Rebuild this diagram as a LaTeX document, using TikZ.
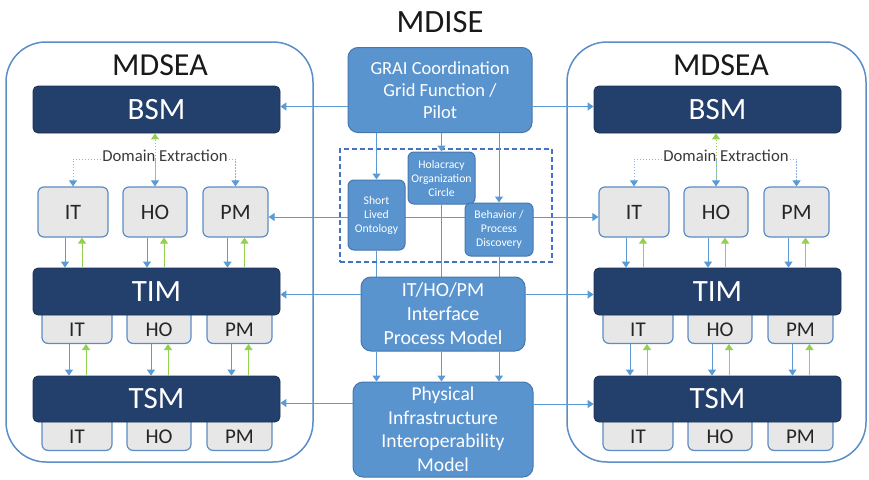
\documentclass[tikz,border=0pt]{standalone}
\usepackage{fontspec}
\setmainfont{Carlito}
\usetikzlibrary{arrows.meta,calc,backgrounds}
\definecolor{navyc}{HTML}{233F6C}
\definecolor{navyb}{HTML}{1B3157}
\definecolor{gf}{HTML}{E7E7E7}
\definecolor{gb}{HTML}{5B8CC5}
\definecolor{mbf}{HTML}{5A94CF}
\definecolor{mbb}{HTML}{4577AF}
\definecolor{ab}{HTML}{5B9BD5}
\definecolor{ag}{HTML}{92D050}
\definecolor{dotc}{HTML}{8EB4E3}
\definecolor{outc}{HTML}{5B8EC6}
\definecolor{dashc}{HTML}{4472C4}
\definecolor{dtext}{HTML}{3A3A3A}
\newcommand\myupdown[2]{%
  \draw[arr] ($(#1.south)+(-8,0)$) -- ($(#1.south |- #2.north)+(-8,0)$);
  \draw[garr] ($(#1.south |- #2.north)+(9,0)$) -- ($(#1.south)+(9,0)$);}
\begin{document}
\begin{tikzpicture}[x=1pt,y=-1pt,
  title/.style={font=\fontsize{32}{32}\selectfont, text=black!90, inner sep=0},
  navy/.style={draw=navyb, fill=navyc, rounded corners=5pt, text=white, font=\fontsize{31}{31}\selectfont, inner sep=0, line width=0.8pt, minimum width=247pt},
  gbox/.style={draw=gb, fill=gf, rounded corners=6pt, line width=1.2pt, font=\fontsize{22}{22}\selectfont, text=black!85, inner sep=0},
  glab/.style={font=\fontsize{21}{21}\selectfont, text=black!85, inner sep=0},
  mbox/.style={draw=mbb, fill=mbf, rounded corners=10pt, text=white, align=center, inner sep=0, line width=1pt},
  sbox/.style={mbox, rounded corners=6pt, font=\fontsize{11.7}{14}\selectfont},
  outerbox/.style={draw=outc, line width=1.5pt, rounded corners=40pt, inner sep=0},
  dashbox/.style={draw=dashc, line width=1.3pt, dash pattern=on 5pt off 3pt, inner sep=0},
  tip/.style={},
  arr/.style={draw=ab, line width=1pt, -{Triangle[width=8pt,length=6pt]}},
  barr/.style={draw=ab, line width=1pt, {Triangle[width=8pt,length=6pt]}-{Triangle[width=8pt,length=6pt]}},
  pline/.style={draw=ab, line width=1pt},
  garr/.style={draw=ag, line width=1pt, -{Triangle[width=8pt,length=6pt]}},
  dotarr/.style={draw=dotc, line width=1pt, dash pattern=on 1.5pt off 1.5pt, -{Triangle[width=8pt,length=6pt,color=ab,fill=ab]}},
  gdotarr/.style={draw=ag, line width=1pt, dash pattern=on 1.5pt off 1.5pt, -{Triangle[width=8pt,length=6pt,color=ag,fill=ag]}},
  domlab/.style={font=\fontsize{16.7}{16.7}\selectfont, text=dtext, inner sep=1pt}
]
\useasboundingbox (0,0) rectangle (869,479);

% outer MDSEA containers
\node[outerbox, minimum width=307pt, minimum height=420pt] (outL) at (159.5,252) {};
\node[outerbox, minimum width=299pt, minimum height=420pt] (outR) at (716.5,252) {};

\foreach \sd/\dx in {L/0,R/561}{
\begin{scope}[xshift=\dx pt]
  \node[title] (mdsea\sd) at (160,65) {MDSEA};
  \node[navy, minimum height=47pt] (bsm\sd) at (156.5,109.5) {BSM};
  \node[domlab] (dom\sd) at (165,156) {Domain Extraction};
  \node[gbox, minimum width=70pt, minimum height=50pt] (it\sd) at (73,212) {IT};
  \node[gbox, minimum width=64pt, minimum height=50pt] (ho\sd) at (155,212) {HO};
  \node[gbox, minimum width=65pt, minimum height=50pt] (pm\sd) at (235.5,212) {PM};
  % sub boxes under TIM
  \node[gbox, minimum width=70pt, minimum height=44pt, anchor=south] (tit\sd) at (77,344) {};
  \node[gbox, minimum width=64pt, minimum height=44pt, anchor=south] (tho\sd) at (159,344) {};
  \node[gbox, minimum width=65pt, minimum height=44pt, anchor=south] (tpm\sd) at (239.5,344) {};
  \node[glab] (titl\sd) at (77,330) {IT};
  \node[glab] (thol\sd) at (159,330) {HO};
  \node[glab] (tpml\sd) at (239.5,330) {PM};
  \node[navy, minimum height=47pt] (tim\sd) at (156.5,291.5) {TIM};
  % sub boxes under TSM
  \node[gbox, minimum width=70pt, minimum height=44pt, anchor=south] (sit\sd) at (77,451) {};
  \node[gbox, minimum width=64pt, minimum height=44pt, anchor=south] (sho\sd) at (159,451) {};
  \node[gbox, minimum width=65pt, minimum height=44pt, anchor=south] (spm\sd) at (239.5,451) {};
  \node[glab] (sitl\sd) at (77,437) {IT};
  \node[glab] (shol\sd) at (159,437) {HO};
  \node[glab] (spml\sd) at (239.5,437) {PM};
  \node[navy, minimum height=46pt] (tsm\sd) at (156.5,399) {TSM};
\end{scope}
  % domain extraction connectors
  \coordinate (dl\sd) at ($(dom\sd.west)+(0,3)$);
  \coordinate (dr\sd) at ($(dom\sd.east)+(0,3)$);
  \draw[dotarr] (dl\sd) -| (it\sd.north);
  \draw[dotarr] (dr\sd) -| (pm\sd.north);
  \draw[gdotarr] (ho\sd.north) -- (ho\sd.north |- bsm\sd.south);
  \draw[dotarr] (ho\sd.north |- dl\sd) -- (ho\sd.north);
  % up/down connectors
  \myupdown{it\sd}{tim\sd}
  \myupdown{ho\sd}{tim\sd}
  \myupdown{pm\sd}{tim\sd}
  \myupdown{tit\sd}{tsm\sd}
  \myupdown{tho\sd}{tsm\sd}
  \myupdown{tpm\sd}{tsm\sd}
}

% centre column
\node[title, font=\fontsize{32.5}{32.5}\selectfont] (mdise) at (440,22) {MDISE};
\node[mbox, minimum width=184pt, minimum height=85pt, font=\fontsize{18.5}{21.7}\selectfont] (grai) at (440,90) {GRAI Coordination\\Grid Function /\\Pilot};
\node[dashbox, minimum width=212pt, minimum height=113pt] (dbox) at (446,205.5) {};
\node[sbox, minimum width=57pt, minimum height=70pt] (slo) at (376.5,215) {Short\\Lived\\Ontology};
\node[sbox, minimum width=67pt, minimum height=52pt] (hola) at (441.5,178) {Holacracy\\Organization\\Circle};
\node[sbox, minimum width=68pt, minimum height=53pt] (beh) at (499,229.5) {Behavior /\\Process\\Discovery};
\node[mbox, minimum width=164pt, minimum height=74pt, font=\fontsize{20}{24}\selectfont] (ipm) at (443,314) {IT/HO/PM\\Interface\\Process Model};
\node[mbox, minimum width=180pt, minimum height=95pt, font=\fontsize{19.6}{23.5}\selectfont] (phys) at (443,429.5) {Physical\\Infrastructure\\Interoperability\\Model};

% GRAI to sub-nodes
\draw[arr] (grai.south -| slo.north) -- (slo.north);
\draw[arr] (grai.south -| hola.north) -- (hola.north);
\draw[arr] (grai.south -| beh.north) -- (beh.north);
% sub-nodes to interface model
\begin{scope}[on background layer]
\draw[pline] (slo.south) -- (slo.south |- ipm.north);
\draw[pline] (hola.south) -- (hola.south |- ipm.north);
\draw[pline] (beh.south) -- (beh.south |- ipm.north);
\coordinate (hl) at ($(pmL.east)+(0,5)$);
\draw[barr] (hl) -- (hl -| itR.west);
\end{scope}
% interface to physical
\draw[arr] (ipm.south -| slo.south) -- (phys.north -| slo.south);
\draw[arr] (ipm.south -| hola.south) -- (phys.north -| hola.south);
\draw[arr] (ipm.south -| beh.south) -- (phys.north -| beh.south);

% horizontal connectors to MDSEA
\coordinate (bl) at ($(bsmL.east)+(0,-3)$);
\coordinate (br) at ($(bsmR.west)+(0,-3)$);
\draw[arr] (bl -| grai.west) -- (bl);
\draw[arr] (br -| grai.east) -- (br);
\coordinate (tl) at ($(timL.east)+(0,3)$);
\coordinate (tr) at ($(timR.west)+(0,3)$);
\draw[arr] (tl -| ipm.west) -- (tl);
\draw[arr] (tr -| ipm.east) -- (tr);
\coordinate (sl) at ($(tsmL.east)+(0,4)$);
\coordinate (sr) at ($(tsmR.west)+(0,5)$);
\draw[arr] (sl -| phys.west) -- (sl);
\draw[arr] (sr -| phys.east) -- (sr);
\end{tikzpicture}
\end{document}
